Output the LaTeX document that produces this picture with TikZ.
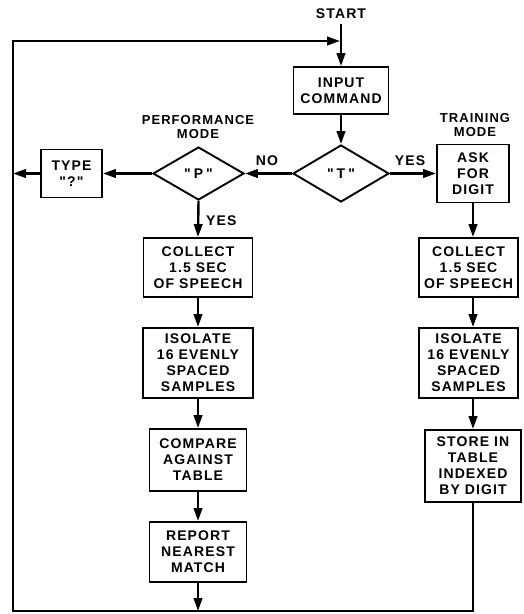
\documentclass[tikz,border=0pt]{standalone}
\usepackage{fontspec}
\newfontfamily\lab{Liberation Sans}[LetterSpace=8]
\usetikzlibrary{shapes.geometric,arrows.meta}
\begin{document}
\begin{tikzpicture}[x=1pt,y=-1pt,
  lbl/.style={font=\lab\bfseries\fontsize{14}{16}\selectfont, align=center, inner sep=0pt},
  box/.style={lbl, draw, line width=1.9pt, rectangle},
  dia/.style={lbl, draw, line width=1.9pt, diamond, aspect=1.7},
  ln/.style={line width=2.4pt},
  arr/.style={ln, -{Triangle[length=13pt,width=8.5pt]}}]
\useasboundingbox (0,0) rectangle (523,614);
% nodes
\node[lbl] (start) at (341,14) {START};
\node[box, minimum width=95pt, minimum height=47pt] (inp) at (341,90.5) {INPUT\\COMMAND};
\node[dia, minimum width=96pt, minimum height=57pt] (t) at (341,173.5) {"\hspace{3pt}T\hspace{3pt}"};
\node[dia, minimum width=91pt, minimum height=53pt] (p) at (198.5,173.5) {"\hspace{3pt}P\hspace{3pt}"};
\node[box, minimum width=72pt, minimum height=58pt] (ask) at (473,173.5) {ASK\\FOR\\DIGIT};
\node[box, minimum width=61pt, minimum height=48pt] (type) at (71.5,173.5) {TYPE\\"?"};
\node[lbl, font=\lab\bfseries\fontsize{13}{14}\selectfont] (perf) at (198,127.5) {PERFORMANCE\\MODE};
\node[lbl, font=\lab\bfseries\fontsize{13}{14}\selectfont] (train) at (475,125.5) {TRAINING\\MODE};
\node[lbl] (no) at (267,161) {NO};
\node[lbl] (yes1) at (410,161) {YES};
\node[lbl, anchor=west] (yes2) at (206,221) {YES};
\node[box, minimum width=109pt, minimum height=59pt] (cL) at (198,267.5) {COLLECT\\1.5 SEC\\OF SPEECH};
\node[box, minimum width=110pt, minimum height=70pt] (iL) at (198,363) {ISOLATE\\16 EVENLY\\SPACED\\SAMPLES};
\node[box, minimum width=97pt, minimum height=62pt] (cmp) at (198,460) {COMPARE\\AGAINST\\TABLE};
\node[box, minimum width=97pt, minimum height=60pt] (rep) at (198,552) {REPORT\\NEAREST\\MATCH};
\node[box, minimum width=99pt, minimum height=59pt] (cR) at (468.5,267.5) {COLLECT\\1.5 SEC\\OF SPEECH};
\node[box, minimum width=99pt, minimum height=70pt] (iR) at (468.5,363) {ISOLATE\\16 EVENLY\\SPACED\\SAMPLES};
\node[box, minimum width=96pt, minimum height=72pt] (store) at (473,466) {STORE IN\\TABLE\\INDEXED\\BY DIGIT};
\coordinate (bl) at (13,611);
\coordinate (jn) at (341,41);
% connectors
\draw[arr, shorten <=5pt] (start.south) -- (inp.north);
\draw[arr] (inp.south) -- (t.north);
\draw[arr] (t.west) -- (p.east);
\draw[arr] (t.east) -- (ask.west);
\draw[arr] (p.west) -- (type.east);
\draw[arr] (type.west) -- (type.west -| bl);
\draw[arr] (p.south) -- (cL.north);
\draw[arr] (cL.south) -- (iL.north);
\draw[arr] (iL.south) -- (cmp.north);
\draw[arr] (cmp.south) -- (rep.north);
\draw[arr] (rep.south) -- (rep.south |- bl);
\draw[arr] (ask.south) -- (cR.north -| ask.south);
\draw[arr] (cR.south -| ask.south) -- (iR.north -| ask.south);
\draw[arr] (iR.south -| ask.south) -- (store.north);
\draw[arr, line join=miter, shorten >=1pt] (store.south) |- (bl) |- (jn);
\end{tikzpicture}
\end{document}
